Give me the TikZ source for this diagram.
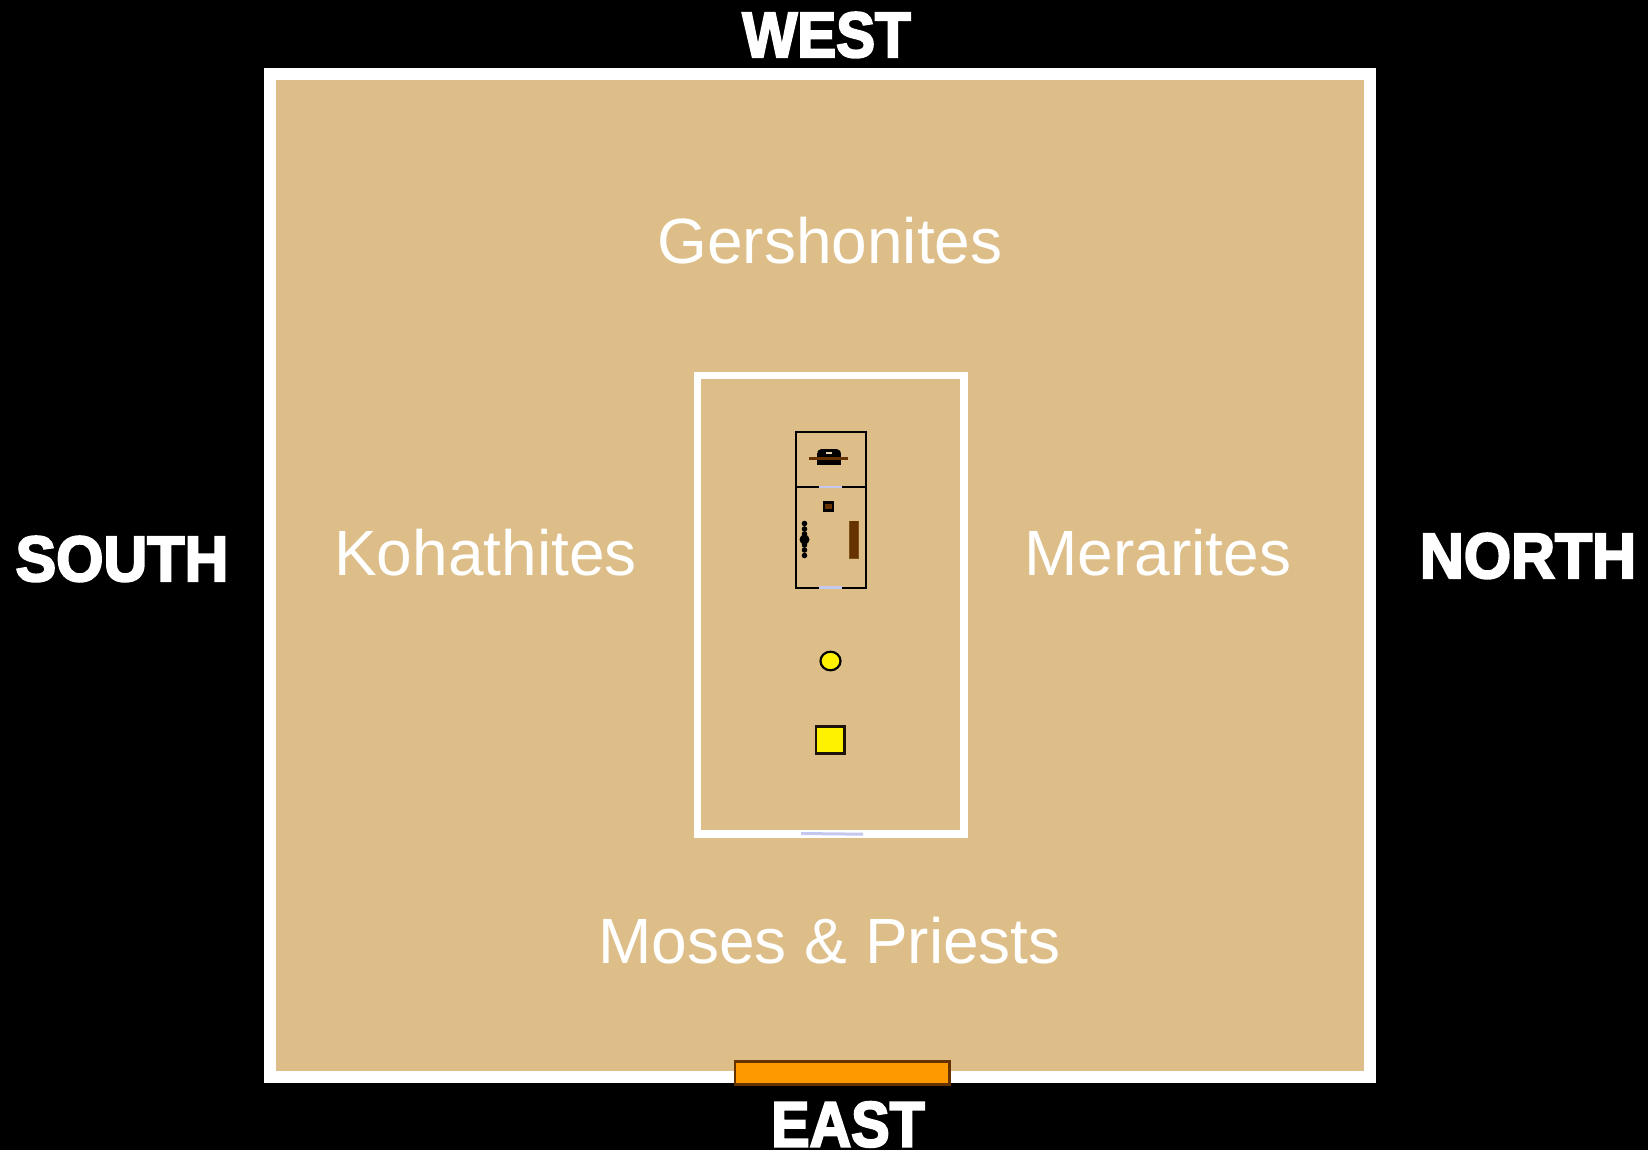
\documentclass[tikz,border=0pt]{standalone}
\usepackage{fontspec}
\setmainfont{Liberation Sans}
\newfontfamily\heavy[FakeBold=3.5]{Liberation Sans Bold}
\definecolor{tan}{HTML}{DDBE88}
\definecolor{brownbar}{HTML}{663300}
\definecolor{gateor}{HTML}{FF9900}
\definecolor{door}{HTML}{C4C8EE}
\tikzset{
  wall/.style={draw=white,fill=tan,line join=miter},
  camp/.style={text=white,font=\fontsize{32}{36}\selectfont,anchor=base,inner sep=0pt},
  compass/.style={text=white,font=\heavy\fontsize{32}{36}\selectfont,anchor=base,inner sep=0pt},
  thin wall/.style={draw=black,line width=1pt},
  doorline/.style={draw=door,line width=1.2pt},
  lamp/.style={circle,fill=black,inner sep=0pt,minimum size=2.8pt}
}
\begin{document}
\begin{tikzpicture}[x=0.5pt,y=-0.5pt]
\useasboundingbox[fill=black] (0,0) rectangle (1648,1150);
% outer court
\draw[wall,line width=6pt] (270,74) rectangle (1370,1077);
% gate
\draw[fill=gateor,draw=brownbar,line width=1.3pt] (735,1061.5) rectangle (949.5,1084.5);
% inner court
\draw[wall,line width=3.6pt] (697.8,375.8) rectangle (964,834);
\draw[doorline,line width=1.5pt] (801,833.5) -- (863,834.2);
% tabernacle
\draw[thin wall] (796,431.5) rectangle (866,587.5);
\draw[thin wall] (796,487) -- (866,487);
\draw[doorline] (819,487) -- (842,487);
\draw[doorline] (819,587.5) -- (842,587.5);
% ark
\fill[black] (817,453) rectangle (841,464.5);
\fill[black,rounded corners=1pt] (817.5,450) rectangle (840.5,456);
\fill[black,rounded corners=1.5pt] (818.5,449) rectangle (839.5,455);
\fill[tan!70!white] (826,452) rectangle (832,453.5);
\fill[brownbar] (809,457) rectangle (848,459.5);
% table of showbread
\draw[fill=brownbar,draw=black,line width=1.1pt] (824,502.5) rectangle (833,510.5);
% menorah
\foreach \n/\y in {a/523.5,b/529,c/534,d/545,e/550,f/555.5}{\node[lamp] (lamp\n) at (804.5,\y) {};}
\node[circle,fill=black,inner sep=0pt,minimum size=5pt] (lampc) at (804.5,539.5) {};
% brown table
\fill[brownbar!80!tan] (849,520.5) rectangle (858.5,558.5);
\fill[brownbar] (849.5,521) rectangle (858,557.5);
% laver
\draw[fill=yellow,draw=black,line width=1.1pt] (830.5,661) ellipse [x radius=10,y radius=9.3];
% altar
\draw[fill=yellow,draw=black!85!brown,line width=1.2pt] (816,726.5) rectangle (844.5,753.5);
% labels
\node[camp] (gersh) at (830,263.5) {Gershonites};
\node[camp] (koh) at (485.5,575.5) {Kohathites};
\node[camp] (mer) at (1158,575.5) {Merarites};
\node[camp] (moses) at (829.5,963) {Moses \& Priests};
\node[compass,xscale=.91] (west) at (826.5,57) {WEST};
\node[compass,xscale=.90] (east) at (848,1146.5) {EAST};
\node[compass,xscale=.95] (south) at (122,581) {SOUTH};
\node[compass,xscale=.95] (north) at (1528,578) {NORTH};
\end{tikzpicture}
\end{document}
